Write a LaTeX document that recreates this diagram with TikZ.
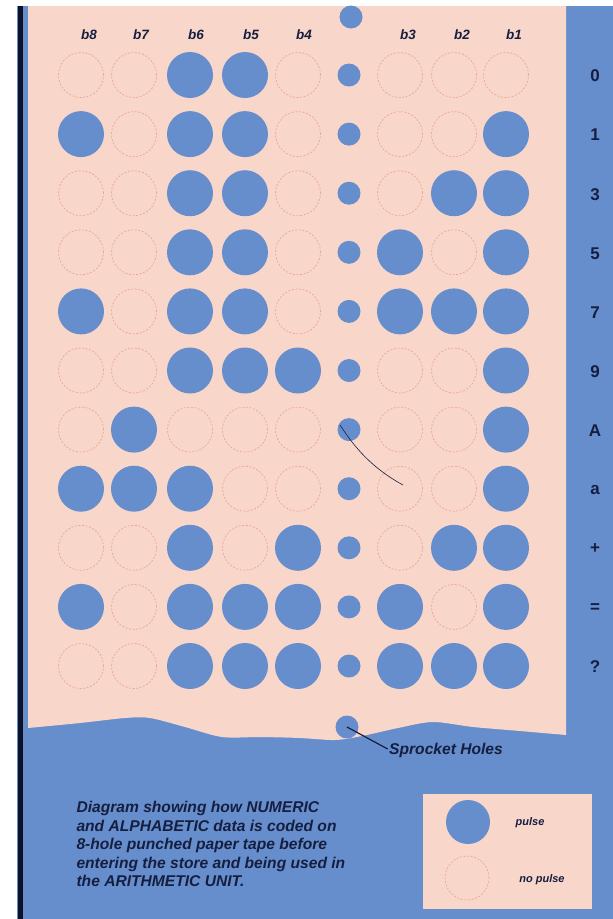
\documentclass[tikz,border=0pt]{standalone}
\usepackage{fontspec}
\setmainfont{Liberation Sans}
\usetikzlibrary{positioning}
\definecolor{tapeblue}{RGB}{102,142,204}
\definecolor{tapepink}{RGB}{249,214,202}
\definecolor{rimorange}{RGB}{236,166,146}
\definecolor{inkdark}{RGB}{22,30,64}
\tikzset{
  pulse/.style={circle, fill=tapeblue, minimum size=46pt, inner sep=0pt},
  nopulse/.style={circle, draw=rimorange, line width=0.7pt,
    dash pattern=on 2pt off 1.6pt, minimum size=45pt, inner sep=0pt},
  sprocket/.style={circle, fill=tapeblue, minimum size=23pt, inner sep=0pt},
  bitlabel/.style={font=\bfseries\itshape\fontsize{13.5}{16}\selectfont, text=inkdark},
  charlabel/.style={font=\bfseries\fontsize{17}{20}\selectfont, text=inkdark},
  note/.style={font=\bfseries\itshape\fontsize{15.6}{18.5}\selectfont,
    text=inkdark, align=left},
  legendtext/.style={font=\bfseries\itshape\fontsize{11}{13}\selectfont, text=inkdark},
  leader/.style={draw=inkdark, line width=1.2pt}
}

\begin{document}
\begin{tikzpicture}[x=1pt, y=-1pt]
\useasboundingbox (0,0) rectangle (613,919);

% background and tape
\fill[white] (0,0) rectangle (613,919);
\fill[tapeblue] (17,6) rectangle (613,919);
\draw[inkdark!60!black, line width=5pt] (20.5,6) -- (20.5,919);
\fill[tapepink] (28,6) -- (566,6) -- (566,735)
  -- plot[smooth] coordinates {(566,735) (520,731) (473,727) (433,722) (398,728)
    (362,736) (335,740) (300,738) (260,737) (222,737) (185,727) (150,718)
    (125,718) (80,723) (28,728)} -- cycle;

% bit labels
\foreach \lbl/\xx in {b8/89, b7/141, b6/196, b5/251, b4/304, b3/408, b2/462, b1/514}
  \node[bitlabel] (head-\lbl) at (\xx,35) {\lbl};

% sprocket at top and bottom
\node[sprocket] (sprocket-top) at (351,17) {};
\node[sprocket] (sprocket-bot) at (347,727) {};

% one row of holes for each character
\foreach \ch/\bits [count=\r] in {0/{0,0,1,1,0,0,0,0}, 1/{1,0,1,1,0,0,0,1},
    3/{0,0,1,1,0,0,1,1}, 5/{0,0,1,1,0,1,0,1}, 7/{1,0,1,1,0,1,1,1},
    9/{0,0,1,1,1,0,0,1}, A/{0,1,0,0,0,0,0,1}, a/{1,1,1,0,0,0,0,1},
    +/{0,0,1,0,1,0,1,1}, =/{1,0,1,1,1,1,0,1}, ?/{0,0,1,1,1,1,1,1}} {
  \pgfmathsetmacro\yy{75+(\r-1)*59.1}
  \node[sprocket] (sprocket-\r) at (349,\yy) {};
  \node[charlabel] (char-\r) at (595,\yy+1) {\ch};
  \foreach \b [count=\c] in \bits {
    \pgfmathsetmacro\xx{{81,134,190,245,298,400,454,506}[\c-1]}
    \ifnum\b=1
      \node[pulse] (hole-\r-\c) at (\xx,\yy) {};
    \else
      \node[nopulse] (hole-\r-\c) at (\xx,\yy) {};
    \fi
  }
}

% pencil stroke across row A
\draw[inkdark, line width=0.6pt] (340,425) .. controls (355,448) and (372,468) .. (403,485);

% sprocket hole callout
\node[legendtext, font=\bfseries\itshape\fontsize{15.6}{18}\selectfont]
  (sprocket-lbl) at (446,750) {Sprocket Holes};
\draw[leader] (sprocket-bot.center) -- ([xshift=2pt,yshift=1pt]sprocket-lbl.west);

% caption
\node[note, anchor=north west] (caption) at (73,798) {%
  Diagram showing how NUMERIC\\
  and ALPHABETIC data is coded on\\
  8-hole punched paper tape before\\
  entering the store and being used in\\
  the ARITHMETIC UNIT.};

% legend
\fill[tapepink] (423,794) rectangle (592,909);
\node[pulse, minimum size=44pt] (key-pulse) at (468,822) {};
\node[nopulse, minimum size=44pt] (key-nopulse) at (467,878) {};
\node[legendtext] (key-pulse-lbl) at (530,823) {pulse};
\node[legendtext] (key-nopulse-lbl) at (542,880) {no pulse};

\end{tikzpicture}
\end{document}
